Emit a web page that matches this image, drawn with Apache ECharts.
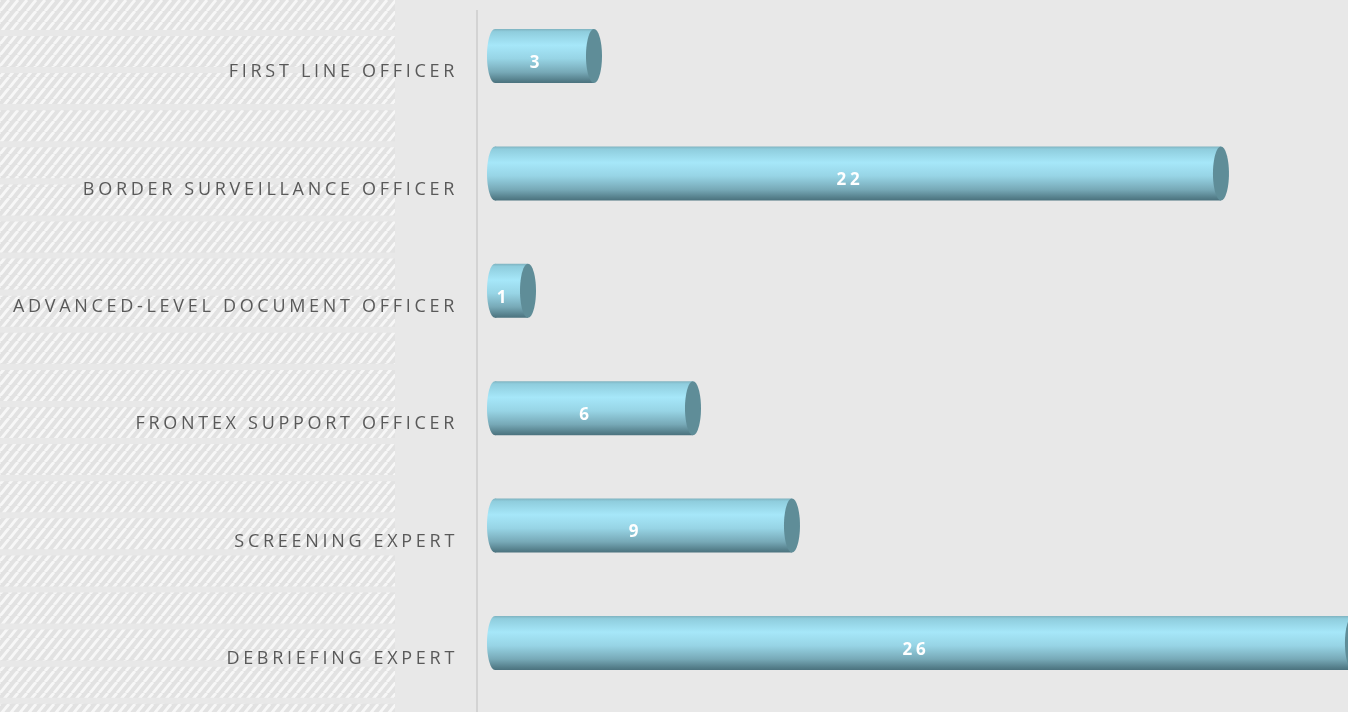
<!DOCTYPE html>
<html>
<head>
<meta charset="utf-8">
<script src="https://cdn.jsdelivr.net/npm/echarts@6/dist/echarts.min.js"></script>
<style>
  html, body { margin: 0; padding: 0; background: #e8e8e8; }
  #main { width: 1348px; height: 712px; }
</style>
</head>
<body>
<div id="main"></div>
<script>
const categories = [
  'FIRST LINE OFFICER',
  'BORDER SURVEILLANCE OFFICER',
  'ADVANCED-LEVEL DOCUMENT OFFICER',
  'FRONTEX SUPPORT OFFICER',
  'SCREENING EXPERT',
  'DEBRIEFING EXPERT'
];
const values = [3, 22, 1, 6, 9, 26];

// hatch tile for the striped area behind the labels
var tile = document.createElement('canvas');
tile.width = 9;
tile.height = 11;
var tctx = tile.getContext('2d');
tctx.fillStyle = '#e2e2e2';
tctx.fillRect(0, 0, 9, 11);
tctx.strokeStyle = '#f7f7f7';
tctx.lineWidth = 3;
tctx.beginPath();
tctx.moveTo(-9, 11); tctx.lineTo(0, 0);
tctx.moveTo(0, 11); tctx.lineTo(9, 0);
tctx.moveTo(9, 11); tctx.lineTo(18, 0);
tctx.stroke();

var bands = [];
for (var k = 0; k < 20; k++) {
  bands.push({
    type: 'rect',
    z: -10,
    shape: { x: 0, y: -1.1 + 37.1 * k, width: 395, height: 31 },
    style: { fill: { image: tile, repeat: 'repeat' } }
  });
}

function renderCylinder(params, api) {
  var v = api.value(0);
  var start = api.coord([0, api.value(1)]);
  var end = api.coord([v, api.value(1)]);
  var mid = api.coord([v / 2, api.value(1)]);
  var h = 54, rx = 8;
  var grad = new echarts.graphic.LinearGradient(0, 0, 0, 1, [
    { offset: 0, color: '#7fb3c0' },
    { offset: 0.05, color: '#8fcddd' },
    { offset: 0.3, color: '#a6e7f9' },
    { offset: 0.55, color: '#97d4e5' },
    { offset: 0.8, color: '#77a9b7' },
    { offset: 0.95, color: '#557f8b' },
    { offset: 1, color: '#4b727e' }
  ]);
  return {
    type: 'group',
    children: [
      { type: 'ellipse', shape: { cx: start[0], cy: start[1], rx: rx, ry: h / 2 }, style: { fill: grad } },
      { type: 'rect', shape: { x: start[0], y: start[1] - h / 2, width: end[0] - start[0], height: h }, style: { fill: grad } },
      { type: 'ellipse', shape: { cx: end[0], cy: end[1], rx: rx, ry: h / 2 }, style: { fill: '#5f8d98' } },
      {
        type: 'text',
        style: {
          text: String(v), x: mid[0] - 8, y: start[1] + 7,
          fill: '#ffffff', fontSize: 17, fontWeight: 'bold', fontFamily: 'Open Sans',
          align: 'center', verticalAlign: 'middle'
        }
      }
    ]
  };
}

var option = {
  backgroundColor: '#e8e8e8',
  animation: false,
  grid: { left: 495, right: 0, top: 56, height: 587 },
  xAxis: { type: 'value', min: 0, max: 25.85, show: false },
  yAxis: {
    type: 'category',
    data: categories,
    inverse: true,
    boundaryGap: false,
    axisLine: { show: false },
    axisTick: { show: false },
    splitLine: { show: false },
    axisLabel: {
      interval: 0,
      margin: 37,
      color: '#595959',
      fontSize: 18,
      fontFamily: 'Open Sans',
      verticalAlign: 'top',
      lineHeight: 32
    }
  },
  graphic: bands.concat([
    { type: 'line', z: -5, shape: { x1: 477, y1: 10, x2: 477, y2: 712 }, style: { stroke: '#d3d3d3', lineWidth: 2 } }
  ]),
  series: [{
    type: 'custom',
    renderItem: renderCylinder,
    data: values.map(function (v, i) { return [v, i]; }),
    clip: false
  }]
};

var chart = echarts.init(document.getElementById('main'));
chart.setOption(option);
// spaced-out lettering like the original labels
chart.getDom().querySelector('canvas').getContext('2d').letterSpacing = '3.7px';
chart.clear();
chart.setOption(option);
</script>
</body>
</html>
